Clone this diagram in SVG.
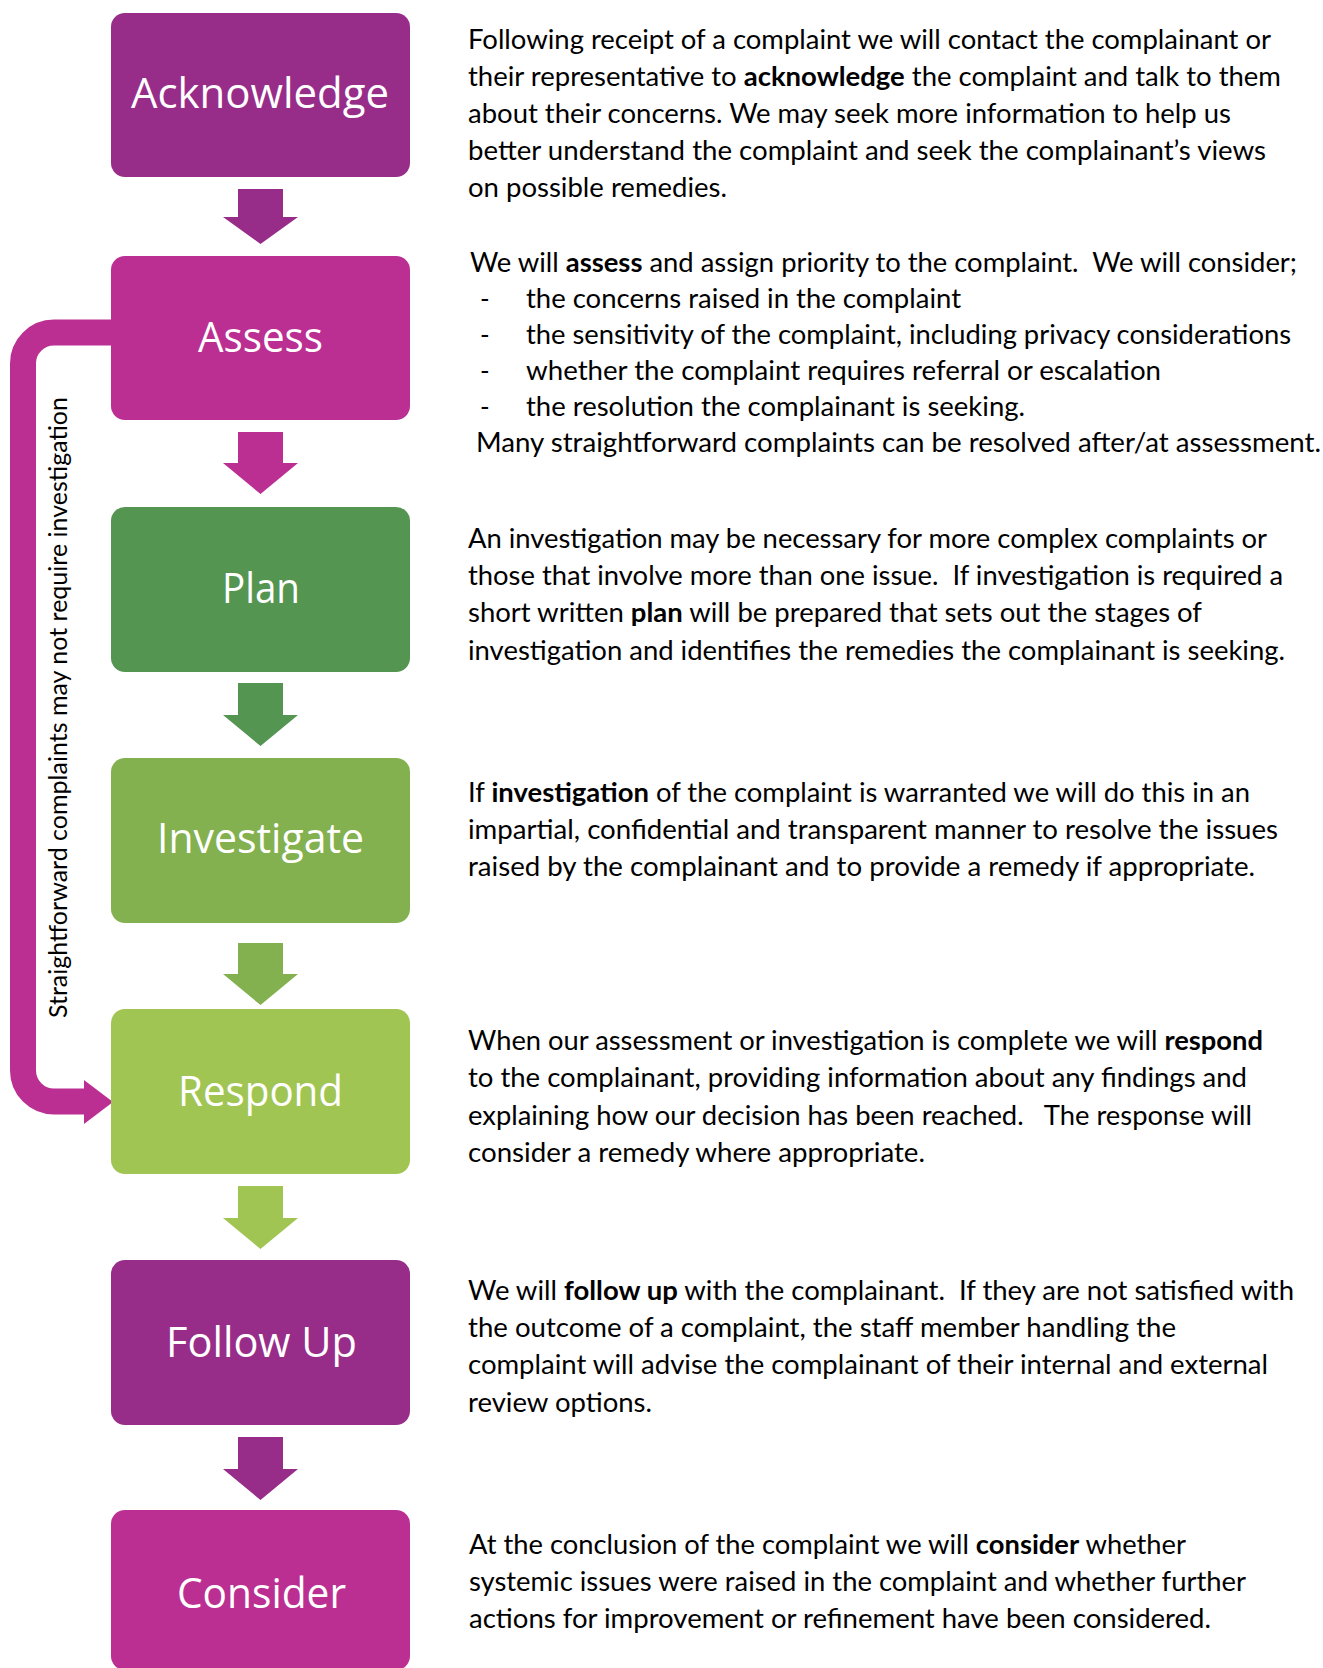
<svg xmlns="http://www.w3.org/2000/svg" width="1323" height="1668" viewBox="0 0 1323 1668">
<style>
.node-label{font-family:"Open Sans","Noto Sans",sans-serif;font-size:42px;fill:#ffffff;text-anchor:middle}
.body{font-family:Lato,"Liberation Sans",sans-serif;font-size:26px;fill:#000000;white-space:pre}
.side{font-family:Lato,"Liberation Sans",sans-serif;font-size:25px;fill:#000000}
.b{font-weight:bold}
.purple{fill:#972D89}
.magenta{fill:#BB2F93}
.dgreen{fill:#559552}
.mgreen{fill:#84B14F}
.lgreen{fill:#A1C552}
</style>
<rect width="1323" height="1668" fill="#ffffff"/>

<g id="connectors">
  <path d="M 112 332.5 H 54 A 31 31 0 0 0 23 363.5 V 1070.5 A 31 31 0 0 0 54 1101.5 H 86" fill="none" stroke="#BB2F93" stroke-width="26"/>
  <polygon class="magenta" points="84,1080 113,1102 84,1124"/>
  <polygon class="purple" points="238,189 283,189 283,217 298,217 260.5,244 223,217 238,217"/>
  <polygon class="magenta" points="238,432 283,432 283,463 298,463 260.5,494 223,463 238,463"/>
  <polygon class="dgreen" points="238,683 283,683 283,715 298,715 260.5,746 223,715 238,715"/>
  <polygon class="mgreen" points="238,943 283,943 283,974 298,974 260.5,1005 223,974 238,974"/>
  <polygon class="lgreen" points="238,1186 283,1186 283,1218 298,1218 260.5,1249 223,1218 238,1218"/>
  <polygon class="purple" points="238,1437 283,1437 283,1469 298,1469 260.5,1500 223,1469 238,1469"/>
  <text class="side" transform="translate(67,1018) rotate(-90)" x="0" y="0" textLength="621" lengthAdjust="spacingAndGlyphs">Straightforward complaints may not require investigation</text>
</g>

<g id="node-acknowledge">
  <rect class="purple" x="111" y="13" width="299" height="164" rx="14"/>
  <text class="node-label" x="260" y="108" textLength="258" lengthAdjust="spacingAndGlyphs">Acknowledge</text>
</g>
<g id="node-assess">
  <rect class="magenta" x="111" y="256" width="299" height="164" rx="14"/>
  <text class="node-label" x="260.5" y="352" textLength="125" lengthAdjust="spacingAndGlyphs">Assess</text>
</g>
<g id="node-plan">
  <rect class="dgreen" x="111" y="507" width="299" height="165" rx="14"/>
  <text class="node-label" x="261" y="603" textLength="78" lengthAdjust="spacingAndGlyphs">Plan</text>
</g>
<g id="node-investigate">
  <rect class="mgreen" x="111" y="758" width="299" height="165" rx="14"/>
  <text class="node-label" x="260.5" y="853" textLength="207" lengthAdjust="spacingAndGlyphs">Investigate</text>
</g>
<g id="node-respond">
  <rect class="lgreen" x="111" y="1009" width="299" height="165" rx="14"/>
  <text class="node-label" x="260.5" y="1106" textLength="165" lengthAdjust="spacingAndGlyphs">Respond</text>
</g>
<g id="node-followup">
  <rect class="purple" x="111" y="1260" width="299" height="165" rx="14"/>
  <text class="node-label" x="261.5" y="1357" textLength="191" lengthAdjust="spacingAndGlyphs">Follow Up</text>
</g>
<g id="node-consider">
  <rect class="magenta" x="111" y="1510" width="299" height="160" rx="14"/>
  <text class="node-label" x="261.5" y="1608" textLength="169" lengthAdjust="spacingAndGlyphs">Consider</text>
</g>

<g id="desc-acknowledge">
  <text class="body" x="468" y="49" textLength="803" lengthAdjust="spacingAndGlyphs">Following receipt of a complaint we will contact the complainant or</text>
  <text class="body" x="468" y="86" textLength="813" lengthAdjust="spacingAndGlyphs">their representative to <tspan class="b">acknowledge</tspan> the complaint and talk to them</text>
  <text class="body" x="468" y="123" textLength="763" lengthAdjust="spacingAndGlyphs">about their concerns. We may seek more information to help us</text>
  <text class="body" x="468" y="160" textLength="798" lengthAdjust="spacingAndGlyphs">better understand the complaint and seek the complainant’s views</text>
  <text class="body" x="468" y="197" textLength="259" lengthAdjust="spacingAndGlyphs">on possible remedies.</text>
</g>

<g id="desc-assess">
  <text class="body" x="470" y="272" textLength="827" lengthAdjust="spacingAndGlyphs">We will <tspan class="b">assess</tspan> and assign priority to the complaint.  We will consider;</text>
  <text class="body" x="480" y="308">-</text>
  <text class="body" x="526" y="308" textLength="435" lengthAdjust="spacingAndGlyphs">the concerns raised in the complaint</text>
  <text class="body" x="480" y="344">-</text>
  <text class="body" x="526" y="344" textLength="765" lengthAdjust="spacingAndGlyphs">the sensitivity of the complaint, including privacy considerations</text>
  <text class="body" x="480" y="380">-</text>
  <text class="body" x="526" y="380" textLength="635" lengthAdjust="spacingAndGlyphs">whether the complaint requires referral or escalation</text>
  <text class="body" x="480" y="416">-</text>
  <text class="body" x="526" y="416" textLength="499" lengthAdjust="spacingAndGlyphs">the resolution the complainant is seeking.</text>
  <text class="body" x="476" y="452" textLength="845" lengthAdjust="spacingAndGlyphs">Many straightforward complaints can be resolved after/at assessment.</text>
</g>

<g id="desc-plan">
  <text class="body" x="468" y="548" textLength="799" lengthAdjust="spacingAndGlyphs">An investigation may be necessary for more complex complaints or</text>
  <text class="body" x="468" y="585" textLength="815" lengthAdjust="spacingAndGlyphs">those that involve more than one issue.  If investigation is required a</text>
  <text class="body" x="468" y="622" textLength="734" lengthAdjust="spacingAndGlyphs">short written <tspan class="b">plan</tspan> will be prepared that sets out the stages of</text>
  <text class="body" x="468" y="660" textLength="817" lengthAdjust="spacingAndGlyphs">investigation and identifies the remedies the complainant is seeking.</text>
</g>

<g id="desc-investigate">
  <text class="body" x="468" y="802" textLength="782" lengthAdjust="spacingAndGlyphs">If <tspan class="b">investigation</tspan> of the complaint is warranted we will do this in an</text>
  <text class="body" x="468" y="839" textLength="810" lengthAdjust="spacingAndGlyphs">impartial, confidential and transparent manner to resolve the issues</text>
  <text class="body" x="468" y="876" textLength="787" lengthAdjust="spacingAndGlyphs">raised by the complainant and to provide a remedy if appropriate.</text>
</g>

<g id="desc-respond">
  <text class="body" x="468" y="1050" textLength="795" lengthAdjust="spacingAndGlyphs">When our assessment or investigation is complete we will <tspan class="b">respond</tspan></text>
  <text class="body" x="468" y="1087" textLength="779" lengthAdjust="spacingAndGlyphs">to the complainant, providing information about any findings and</text>
  <text class="body" x="468" y="1125" textLength="784" lengthAdjust="spacingAndGlyphs">explaining how our decision has been reached.   The response will</text>
  <text class="body" x="468" y="1162" textLength="457" lengthAdjust="spacingAndGlyphs">consider a remedy where appropriate.</text>
</g>

<g id="desc-followup">
  <text class="body" x="468" y="1300" textLength="826" lengthAdjust="spacingAndGlyphs">We will <tspan class="b">follow up</tspan> with the complainant.  If they are not satisfied with</text>
  <text class="body" x="468" y="1337" textLength="708" lengthAdjust="spacingAndGlyphs">the outcome of a complaint, the staff member handling the</text>
  <text class="body" x="468" y="1374" textLength="800" lengthAdjust="spacingAndGlyphs">complaint will advise the complainant of their internal and external</text>
  <text class="body" x="468" y="1412" textLength="184" lengthAdjust="spacingAndGlyphs">review options.</text>
</g>

<g id="desc-consider">
  <text class="body" x="469" y="1554" textLength="717" lengthAdjust="spacingAndGlyphs">At the conclusion of the complaint we will <tspan class="b">consider</tspan> whether</text>
  <text class="body" x="469" y="1591" textLength="777" lengthAdjust="spacingAndGlyphs">systemic issues were raised in the complaint and whether further</text>
  <text class="body" x="469" y="1628" textLength="742" lengthAdjust="spacingAndGlyphs">actions for improvement or refinement have been considered.</text>
</g>
</svg>
